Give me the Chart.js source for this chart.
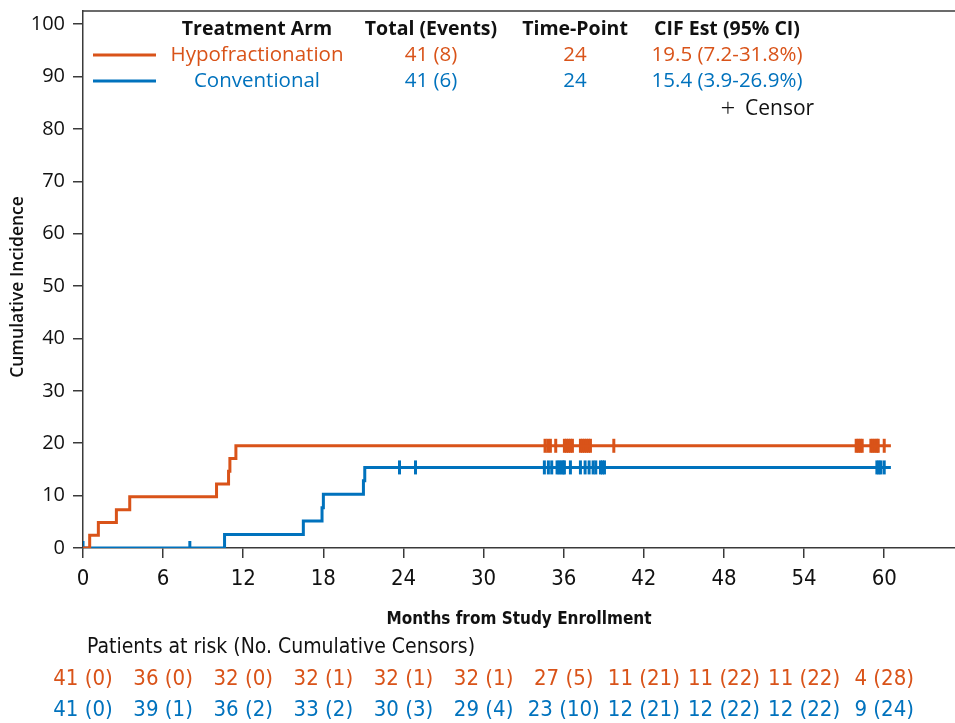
<!DOCTYPE html>
<html lang="en">
<head>
<meta charset="UTF-8">
<title>Cumulative Incidence</title>
<script src="https://cdn.jsdelivr.net/npm/chart.js"></script>
<style>
    body { margin: 0; padding: 0; background: #ffffff; }
    canvas { display: block; }
</style>
</head>
<body>
<canvas id="cifChart" width="955" height="723"></canvas>
<script>
    const hypoColor = '#D95319';
    const convColor = '#0072BD';
    const axisColor = '#3a3a3a';
    const uiFont = "'Open Sans', 'Noto Sans', sans-serif";
    const narrowFont = "'Liberation Sans Narrow', 'DejaVu Sans Condensed', 'Liberation Sans', sans-serif";

    // step curves (months, cumulative incidence %)
    const hypoTimes = [0, 0.5, 1.15, 2.5, 3.5, 10.0, 10.9, 11.0, 11.45, 60.5];
    const hypoCif = [0, 2.44, 4.88, 7.32, 9.76, 12.2, 14.63, 17.07, 19.51, 19.51];
    const convTimes = [0, 10.6, 16.5, 17.9, 18.0, 21.0, 21.1, 60.5];
    const convCif = [0, 2.56, 5.13, 7.69, 10.26, 12.82, 15.38, 15.38];

    // censor times
    const hypoCensors = [34.6, 34.8, 35.0, 35.4, 36.05, 36.2, 36.35, 36.5, 36.65, 37.25, 37.4, 37.55,
        37.7, 37.85, 38.0, 39.75, 57.9, 58.05, 58.2, 58.35, 59.0, 59.15, 59.3, 59.45, 59.55, 60.0];
    const convCensors = [0, 8.0, 23.7, 24.9, 34.55, 34.85, 35.1, 35.5, 35.65, 35.8, 35.95, 36.05, 36.5,
        37.25, 37.6, 37.9, 38.2, 38.4, 38.75, 38.9, 39.05, 59.45, 59.6, 59.75, 60.0];

    // legend table
    const legendHeaders = ['Treatment Arm', 'Total (Events)', 'Time-Point', 'CIF Est (95% CI)'];
    const hypoLegend = ['Hypofractionation', '41 (8)', '24', '19.5 (7.2-31.8%)'];
    const convLegend = ['Conventional', '41 (6)', '24', '15.4 (3.9-26.9%)'];

    // patients at risk
    const riskTimes = [0, 6, 12, 18, 24, 30, 36, 42, 48, 54, 60];
    const hypoRisk = ['41 (0)', '36 (0)', '32 (0)', '32 (1)', '32 (1)', '32 (1)', '27 (5)', '11 (21)', '11 (22)', '11 (22)', '4 (28)'];
    const convRisk = ['41 (0)', '39 (1)', '36 (2)', '33 (2)', '30 (3)', '29 (4)', '23 (10)', '12 (21)', '12 (22)', '12 (22)', '9 (24)'];

    function toPoints(xs, ys) {
        return xs.map((x, i) => ({ x: x, y: ys[i] }));
    }
    function valueAt(xs, ys, t) {
        let v = ys[0];
        for (let i = 0; i < xs.length; i++) {
            if (xs[i] <= t) v = ys[i];
        }
        return v;
    }
    function censorPoints(times, xs, ys) {
        return times.map(t => ({ x: t, y: valueAt(xs, ys, t) }));
    }

    const censorStyle = {
        type: 'scatter',
        showLine: false,
        pointStyle: 'line',
        rotation: 90,
        pointRadius: 7,
        pointHoverRadius: 7,
        pointBorderWidth: 3
    };

    const overlay = {
        id: 'overlay',
        afterDraw(chart) {
            const { ctx, chartArea, scales } = chart;
            ctx.save();

            // top frame
            ctx.strokeStyle = axisColor;
            ctx.lineWidth = 1.5;
            ctx.beginPath();
            ctx.moveTo(chartArea.left, chartArea.top);
            ctx.lineTo(chartArea.right, chartArea.top);
            ctx.stroke();

            // legend table
            const cols = [257, 431, 575, 727];
            ctx.textAlign = 'center';
            ctx.textBaseline = 'alphabetic';
            ctx.fillStyle = '#111';
            ctx.font = 'bold 19.5px ' + uiFont;
            legendHeaders.forEach((h, i) => ctx.fillText(h, cols[i], 35));
            ctx.font = '20.5px ' + uiFont;
            ctx.fillStyle = hypoColor;
            hypoLegend.forEach((s, i) => ctx.fillText(s, cols[i], 61));
            ctx.fillStyle = convColor;
            convLegend.forEach((s, i) => ctx.fillText(s, cols[i], 87));
            ctx.fillStyle = '#111';
            ctx.font = '300 26px ' + uiFont;
            ctx.fillText('+', 728, 117);
            ctx.font = '21px ' + uiFont;
            ctx.textAlign = 'left';
            ctx.fillText('Censor', 745, 115);
            ctx.textAlign = 'center';

            ctx.lineWidth = 3;
            ctx.strokeStyle = hypoColor;
            ctx.beginPath(); ctx.moveTo(93, 55); ctx.lineTo(156, 55); ctx.stroke();
            ctx.strokeStyle = convColor;
            ctx.beginPath(); ctx.moveTo(93, 81); ctx.lineTo(156, 81); ctx.stroke();

            // axis titles
            ctx.fillStyle = '#111';
            ctx.font = 'bold 17px ' + narrowFont;
            ctx.fillText('Months from Study Enrollment', (chartArea.left + chartArea.right) / 2, 624);
            ctx.save();
            ctx.translate(23, 287);
            ctx.rotate(-Math.PI / 2);
            ctx.font = '600 17.5px ' + uiFont;
            ctx.fillText('Cumulative Incidence', 0, 0);
            ctx.restore();

            // patients at risk
            ctx.font = '21px ' + narrowFont;
            ctx.textAlign = 'left';
            ctx.fillText('Patients at risk (No. Cumulative Censors)', 87, 653);
            ctx.font = '22px ' + narrowFont;
            ctx.textAlign = 'center';
            riskTimes.forEach((t, i) => {
                const x = scales.x.getPixelForValue(t);
                ctx.fillStyle = hypoColor;
                ctx.fillText(hypoRisk[i], x, 685);
                ctx.fillStyle = convColor;
                ctx.fillText(convRisk[i], x, 716);
            });
            ctx.restore();
        }
    };

    new Chart(document.getElementById('cifChart'), {
        type: 'line',
        data: {
            datasets: [
                {
                    label: 'Hypofractionation',
                    data: toPoints(hypoTimes, hypoCif),
                    stepped: 'before',
                    borderColor: hypoColor,
                    borderWidth: 3,
                    pointRadius: 0,
                    fill: false
                },
                {
                    label: 'Conventional',
                    data: toPoints(convTimes, convCif),
                    stepped: 'before',
                    borderColor: convColor,
                    borderWidth: 3,
                    pointRadius: 0,
                    fill: false
                },
                Object.assign({
                    label: 'Hypofractionation censor',
                    data: censorPoints(hypoCensors, hypoTimes, hypoCif),
                    borderColor: hypoColor,
                    backgroundColor: hypoColor
                }, censorStyle),
                Object.assign({
                    label: 'Conventional censor',
                    data: censorPoints(convCensors, convTimes, convCif),
                    borderColor: convColor,
                    backgroundColor: convColor
                }, censorStyle)
            ]
        },
        options: {
            responsive: false,
            animation: false,
            layout: { autoPadding: false, padding: { top: 11, left: 0, right: 0, bottom: 0 } },
            plugins: {
                legend: { display: false },
                tooltip: { enabled: false }
            },
            scales: {
                x: {
                    type: 'linear',
                    min: 0,
                    max: 65.3,
                    afterFit: s => { s.height = 175; s.paddingLeft = 0; s.paddingRight = 0; },
                    border: { color: axisColor, width: 1.5 },
                    grid: { drawOnChartArea: false, drawTicks: true, tickLength: 10, color: axisColor, lineWidth: 1.5 },
                    ticks: {
                        stepSize: 6,
                        includeBounds: false,
                        maxRotation: 0,
                        padding: 8,
                        color: '#111',
                        font: { family: narrowFont, size: 22 }
                    }
                },
                y: {
                    min: 0,
                    max: 102.5,
                    afterFit: s => { s.width = 83; s.paddingTop = 0; s.paddingBottom = 0; },
                    border: { color: axisColor, width: 1.5 },
                    grid: { drawOnChartArea: false, drawTicks: true, tickLength: 10, color: axisColor, lineWidth: 1.5 },
                    ticks: {
                        stepSize: 10,
                        includeBounds: false,
                        padding: 8,
                        color: '#111',
                        font: { family: uiFont, size: 20 }
                    }
                }
            }
        },
        plugins: [overlay]
    });
</script>
</body>
</html>
